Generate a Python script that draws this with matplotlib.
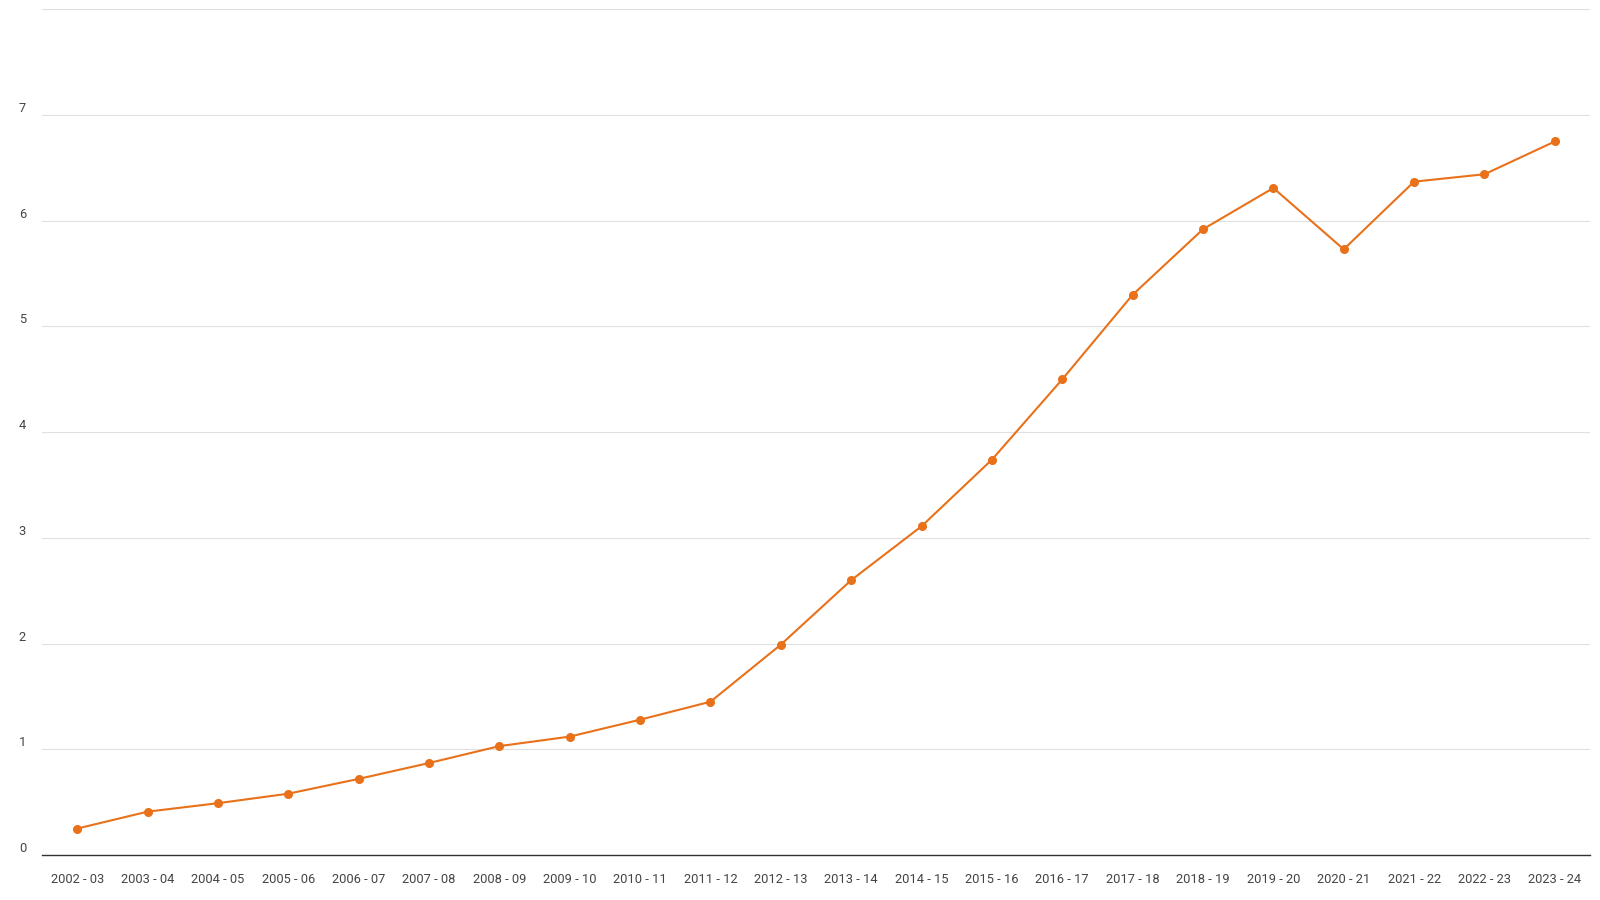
# line chart, yearly values 2002-03 .. 2023-24

import matplotlib
matplotlib.use('Agg')
import matplotlib.pyplot as plt

plt.rcParams['font.family'] = ['Roboto', 'DejaVu Sans']

years = ['2002 - 03', '2003 - 04', '2004 - 05', '2005 - 06', '2006 - 07',
         '2007 - 08', '2008 - 09', '2009 - 10', '2010 - 11', '2011 - 12',
         '2012 - 13', '2013 - 14', '2014 - 15', '2015 - 16', '2016 - 17',
         '2017 - 18', '2018 - 19', '2019 - 20', '2020 - 21', '2021 - 22',
         '2022 - 23', '2023 - 24']
values = [0.25, 0.41, 0.49, 0.58, 0.72, 0.87, 1.03, 1.12, 1.28, 1.45,
          1.99, 2.60, 3.11, 3.74, 4.50, 5.30, 5.92, 6.31, 5.73, 6.37,
          6.44, 6.75]
yticks = [0, 1, 2, 3, 4, 5, 6, 7, 8]
ytick_labels = ['0', '1', '2', '3', '4', '5', '6', '7', '']

line_color = '#e8711a'

fig = plt.figure(figsize=(16, 9), dpi=100)
ax = fig.add_axes([0.02625, 0.05, 0.9675, 0.9396])

x = list(range(len(years)))
ax.plot(x, values, color=line_color, lw=1.5, marker='o', markersize=5.5,
        zorder=3, solid_joinstyle='round')

ax.set_xlim(-0.5, len(years) - 0.5)
ax.set_ylim(0, 8)
ax.set_xticks(x)
ax.set_xticklabels(years)
ax.set_yticks(yticks)
ax.set_yticklabels(ytick_labels)

ax.grid(axis='y', color='#e0e0e0', lw=0.8)
ax.set_axisbelow(True)
for s in ['top', 'right', 'left']:
    ax.spines[s].set_visible(False)
ax.spines['bottom'].set_color('#333333')
ax.spines['bottom'].set_linewidth(1.0)
ax.spines['bottom'].set_zorder(4)

ax.tick_params(axis='x', length=0, pad=13, labelsize=9.3, labelcolor='#444444')
ax.tick_params(axis='y', length=0, pad=11.5, labelsize=9.3, labelcolor='#444444')
for lab in ax.get_yticklabels():
    lab.set_verticalalignment('bottom')

fig.savefig('out.png', dpi=100, facecolor='white')
